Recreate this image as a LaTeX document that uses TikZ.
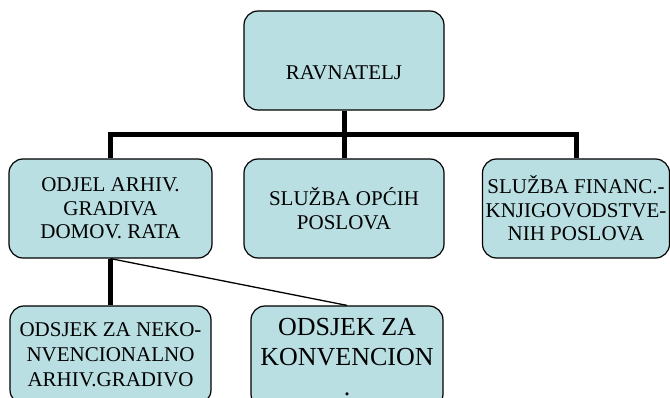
\documentclass[tikz,border=0pt]{standalone}
\usepackage{fontspec}
\setmainfont{Liberation Serif}
\definecolor{boxfill}{RGB}{185,223,227}
\begin{document}
\begin{tikzpicture}[x=1pt,y=-1pt]
        \tikzset{
          unit/.style={draw=black,line width=1.2pt,fill=boxfill,rounded corners=14pt,
            inner sep=0pt,align=center,font=\fontsize{21}{23.5}\selectfont},
          bar/.style={black,line width=5pt},
          thinline/.style={black,line width=1.3pt}
        }
        \useasboundingbox (0,0) rectangle (670,398);
        \clip (0,0) rectangle (670,398);
        %TOP
        \node[unit,minimum width=200pt,minimum height=99pt,text height=39pt,text depth=0pt] (rav) at (344,60.5) {RAVNATELJ};
        %MIDDLE ROW
        \node[unit,minimum width=203pt,minimum height=99pt] (odjel) at (110.5,208.5) {ODJEL ARHIV.\\GRADIVA\\DOMOV. RATA};
        \node[unit,minimum width=200pt,minimum height=99pt] (opci) at (344,208.5) {SLUŽBA OPĆIH\\POSLOVA};
        \node[unit,minimum width=187pt,minimum height=99pt] (fin) at (576,208.5) {SLUŽBA FINANC.-\\KNJIGOVODSTVE-\\NIH POSLOVA};
        %BOTTOM ROW
        \node[unit,minimum width=201pt,minimum height=98pt,font=\fontsize{21}{25}\selectfont] (nekonv) at (110.5,355) {ODSJEK ZA NEKO-\\NVENCIONALNO\\ARHIV.GRADIVO};
        \node[unit,minimum width=192pt,minimum height=102pt,font=\fontsize{26}{30}\selectfont] (konv) at (347,357) {ODSJEK ZA\\KONVENCION\\.};
        %CONNECTORS
        \coordinate (barmid) at (344,135);
        \draw[bar] (rav.south) -- (opci.north);
        \draw[bar] (odjel.north) |- (barmid) -| (fin.north);
        \draw[bar] (odjel.south) -- (nekonv.north);
        \draw[thinline] (odjel.south) -- (konv.north);
    \end{tikzpicture}
\end{document}
